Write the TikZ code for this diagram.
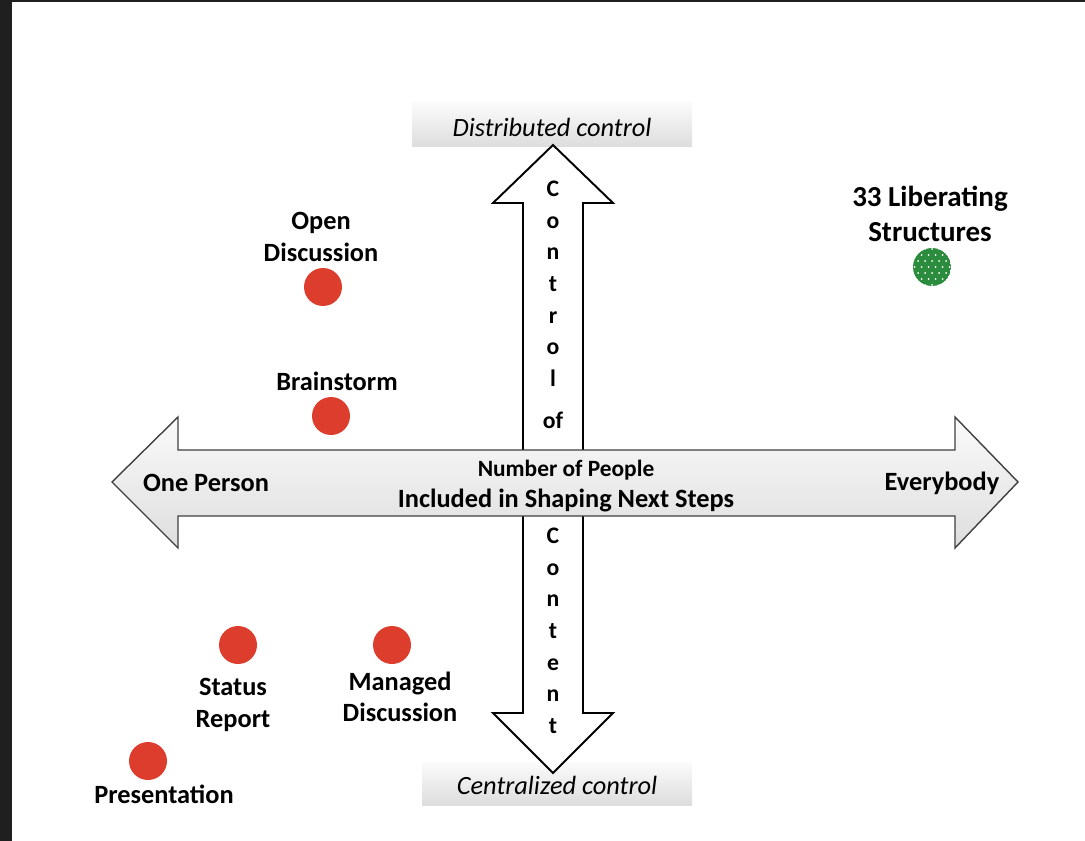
\documentclass[tikz,border=0pt]{standalone}
\usepackage{fontspec}
\setmainfont{Carlito}
\definecolor{dotred}{RGB}{221,61,44}
\definecolor{dotgreen}{RGB}{44,140,62}
\definecolor{framegray}{RGB}{31,31,31}
\tikzset{
	lbl/.style={align=center, font=\bfseries\fontsize{15}{18}\selectfont},
	capbox/.style={top color=gray!3, bottom color=gray!27},
	letter/.style={anchor=base, font=\bfseries\fontsize{13.5}{15}\selectfont},
}

\begin{document}
\begin{tikzpicture}[x=0.02cm, y=-0.02cm]
	\useasboundingbox (0,0) rectangle (1085,841);
	\fill[framegray] (0,0) rectangle (12,841);
	\fill[framegray] (0,0) rectangle (1085,2);
	% end boxes
	\path[capbox] (412,103) rectangle (692,147);
	\path[capbox] (422,762) rectangle (692,805);
	\node (top) at (552,127) {\itshape\fontsize{15}{17}\selectfont Distributed control};
	\node (bottom) at (557,785) {\itshape\fontsize{15}{17}\selectfont Centralized control};
	% vertical arrow
	\path[fill=white, draw=black, line width=1.1pt, line join=miter]
	 (553,145)--(613,203)--(583,203)--(583,713)--(613,713)--(553,773)--(493,713)--(523,713)--(523,203)--(493,203)--cycle;
	% horizontal arrow
	\path[top color=gray!4, bottom color=gray!26, draw=black!75, line width=0.8pt, line join=miter]
	 (112,482)--(178,417)--(178,450)--(955,450)--(955,417)--(1018,482)--(955,548)--(955,516)--(178,516)--(178,548)--cycle;
	% letters
	\foreach \ch [count=\i] in {C,o,n,t,r,o,l}
		\node[letter] (up\i) at (553,165+31.6*\i) {\ch};
	\node[letter] (of) at (553,428) {of};
	\foreach \ch [count=\i] in {C,o,n,t,e,n,t}
		\node[letter] (dn\i) at (553,512+31.6*\i) {\ch};
	% axis labels
	\node[lbl] (one) at (206,483) {One Person};
	\node[lbl] (every) at (942,483) {Everybody};
	\node[lbl] (people) at (566,486) {{\fontsize{13.3}{18}\selectfont Number of People}\\Included in Shaping Next Steps};
	% dots
	\fill[dotred] (323,287) circle(19);
	\fill[dotred] (331,416) circle(19);
	\fill[dotred] (238,645) circle(19);
	\fill[dotred] (392,645) circle(19);
	\fill[dotred] (148,761) circle(19);
	\begin{scope}
		\clip (932,267) circle(19);
		\fill[dotgreen] (932,267) circle(19);
		\foreach \v [evaluate=\v as \sh using {3.5*mod(\v+3,2)}] in {-3,...,3}
			\foreach \u in {-3,...,3}
				\fill[white] ({932+7*\u+\sh},{267+6*\v}) circle(1);
	\end{scope}
	\node[lbl] (open) at (321,237) {Open\\Discussion};
	\node[lbl] (brain) at (337,381) {Brainstorm};
	\node[lbl] (status) at (233,705) {Status\\Report};
	\node[lbl] (managed) at (400,697) {Managed\\Discussion};
	\node[lbl] (pres) at (164,794) {Presentation};
	\node[lbl, font=\bfseries\fontsize{16.5}{19.5}\selectfont] (lib) at (930,214) {33 Liberating\\Structures};
\end{tikzpicture}
\end{document}
